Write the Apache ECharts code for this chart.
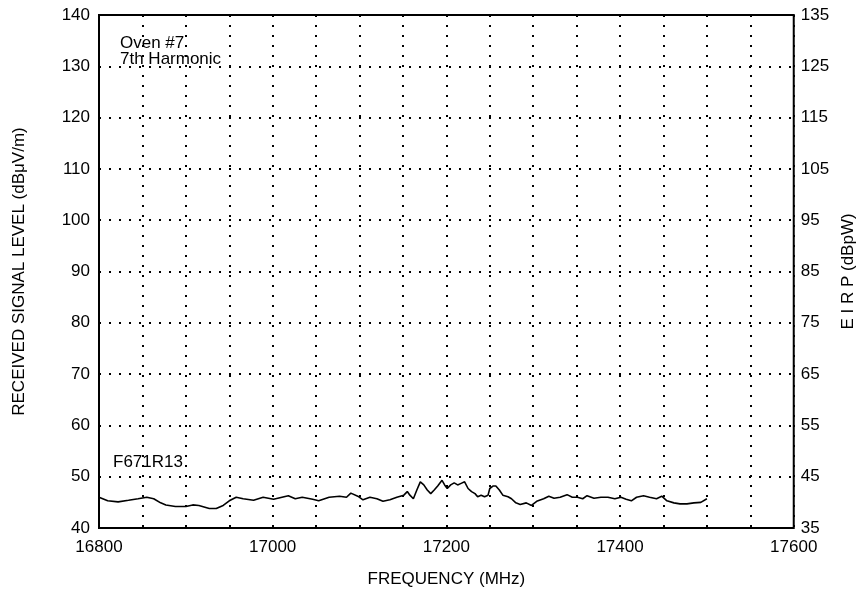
<!DOCTYPE html>
<html><head><meta charset="utf-8">
<script src="https://cdn.jsdelivr.net/npm/echarts@6/dist/echarts.min.js"></script>
<style>html,body{margin:0;padding:0;background:#fff}#c{width:865px;height:612px}</style>
</head><body><div id="c"></div>
<script>
// ---- data ----
const frequencies = [16800,16810,16822,16834,16845,16855,16863,16871,16877,16888,16900,16908,16915,16927,16935,16943,16950,16958,16966,16978,16989,17001,17018,17026,17034,17046,17053,17065,17077,17085,17090,17098,17104,17112,17120,17127,17135,17143,17151,17155,17158,17162,17166,17170,17174,17178,17182,17186,17190,17195,17198,17201,17205,17209,17213,17217,17221,17225,17229,17233,17236,17240,17244,17248,17250,17254,17257,17261,17265,17271,17275,17280,17285,17292,17298,17304,17312,17318,17324,17331,17339,17345,17351,17357,17362,17370,17378,17386,17394,17401,17407,17413,17419,17427,17434,17442,17448,17454,17462,17469,17477,17485,17493,17500];
const levels = [46.0,45.3,45.1,45.4,45.7,46.0,45.7,44.9,44.5,44.2,44.2,44.5,44.4,43.8,43.8,44.4,45.3,46.0,45.7,45.4,46.0,45.6,46.3,45.7,46.0,45.6,45.3,46.0,46.2,46.0,46.8,46.2,45.5,46.0,45.7,45.2,45.5,46.0,46.4,47.1,46.4,45.7,47.4,49.0,48.4,47.4,46.7,47.4,48.2,49.3,48.4,47.7,48.4,48.8,48.4,48.7,49.0,47.7,47.1,46.7,46.1,46.4,46.1,46.4,47.7,48.2,48.2,47.4,46.4,46.1,45.7,44.9,44.6,44.9,44.4,45.2,45.7,46.2,45.8,46.0,46.5,46.0,46.0,45.7,46.3,45.8,46.0,46.0,45.7,46.0,45.6,45.3,46.0,46.3,46.0,45.7,46.2,45.3,44.9,44.7,44.7,44.9,45.0,45.7];
const xLabelTicks = [16800,17000,17200,17400,17600];
const xRange = [16800,17600];
const yRange = [40,140];
const eirpOffset = 5; // right axis (dBpW) = left axis (dBµV/m) - 5
const titleLines = ['Oven #7','7th Harmonic'];
const runLabel = 'F671R13';

const FONT = '"Liberation Sans Narrow", "Liberation Sans", Arial, Helvetica, sans-serif';
const FONTW = '"Liberation Sans", Arial, Helvetica, sans-serif';
const chart = echarts.init(document.getElementById('c'), null, {renderer:'canvas'});
const dotted = {color:'#000', width:2, type:[2,8]};
const lbl = {color:'#000', fontFamily:FONT, fontSize:17};

chart.setOption({
  animation:false,
  backgroundColor:'#fff',
  grid:{left:99, right:69, top:15, bottom:84, show:true, borderColor:'#000', borderWidth:2, backgroundColor:'transparent'},
  xAxis:{
    type:'value', min:xRange[0], max:xRange[1], interval:50,
    axisLine:{show:false}, axisTick:{show:false},
    splitLine:{show:true, lineStyle:dotted},
    axisLabel:Object.assign({}, lbl, {margin:11, showMinLabel:true, showMaxLabel:true,
      formatter:v => xLabelTicks.indexOf(v) >= 0 ? String(v) : ''}),
    name:'FREQUENCY (MHz)', nameLocation:'middle', nameGap:43,
    nameTextStyle:{color:'#000', fontFamily:FONT, fontSize:17}
  },
  yAxis:[{
    type:'value', min:yRange[0], max:yRange[1], interval:10, position:'left',
    axisLine:{show:false}, axisTick:{show:false},
    splitLine:{show:true, lineStyle:dotted},
    axisLabel:Object.assign({}, lbl, {margin:9}),
    name:'RECEIVED SIGNAL LEVEL (dBμV/m)', nameLocation:'middle', nameGap:71, nameRotate:90,
    nameTextStyle:{color:'#000', fontFamily:FONT, fontSize:17}
  },{
    type:'value', min:yRange[0], max:yRange[1], interval:10, position:'right',
    axisLine:{show:false}, axisTick:{show:false}, splitLine:{show:false},
    axisLabel:Object.assign({}, lbl, {margin:7, formatter:v => String(v - eirpOffset)}),
    name:'E I R P (dBpW)', nameLocation:'middle', nameGap:44, nameRotate:90,
    nameTextStyle:{color:'#000', fontFamily:FONT, fontSize:17}
  }],
  series:[{
    type:'line', xAxisIndex:0, yAxisIndex:0,
    data:frequencies.map((f,i)=>[f, levels[i]]),
    showSymbol:false, symbol:'none',
    lineStyle:{color:'#000', width:1.6}
  }],
  graphic:[
    {type:'text', left:120, top:35, style:{text:titleLines[0], fill:'#000', font:'17px '+FONTW, backgroundColor:'#fff'}},
    {type:'text', left:120, top:51, style:{text:titleLines[1], fill:'#000', font:'17px '+FONTW, backgroundColor:'#fff'}},
    {type:'text', left:113, top:454, style:{text:runLabel, fill:'#000', font:'17px '+FONT}}
  ]
});
</script>
</body></html>
